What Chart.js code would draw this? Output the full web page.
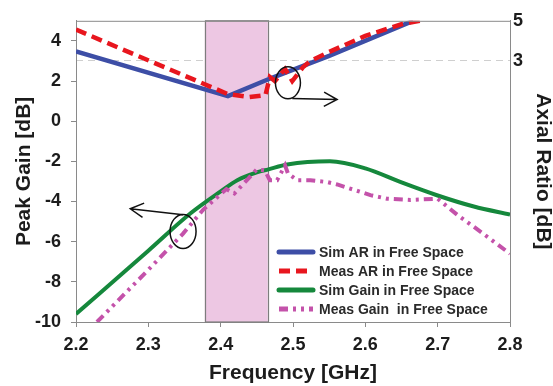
<!DOCTYPE html>
<html>
<head>
<meta charset="utf-8">
<script src="https://cdn.jsdelivr.net/npm/chart.js@4.4.1/dist/chart.umd.min.js"></script>
<style>
html,body{margin:0;padding:0;background:#fff;}
canvas{display:block;}
</style>
</head>
<body>
<canvas id="c" width="553" height="386"></canvas>
<script>
// ---- Data ----
const seriesLabels = ['Sim AR in Free Space', 'Meas AR in Free Space', 'Sim Gain in Free Space', 'Meas Gain  in Free Space'];

const simArFreq   = [2.20, 2.41, 2.47, 2.55, 2.666];
const simArValues = [3.48, 1.25, 2.15, 3.25, 5.0];

const measArFreq   = [2.20, 2.41, 2.44, 2.462, 2.468, 2.475, 2.489, 2.499, 2.514, 2.524, 2.55, 2.60, 2.652, 2.676];
const measArValues = [4.56, 1.35, 1.2, 1.3, 2.2, 2.0, 2.6, 2.0, 2.7, 3.0, 3.45, 4.25, 4.85, 5.0];

const simGainFreq   = [2.20, 2.30, 2.358, 2.40, 2.423, 2.45, 2.466, 2.492, 2.551, 2.60, 2.65, 2.70, 2.75, 2.80];
const simGainValues = [-9.6, -6.45, -4.6, -3.5, -2.94, -2.55, -2.4, -2.16, -2.0, -2.35, -3.05, -3.7, -4.25, -4.65];

const measGainFreq   = [2.229, 2.30, 2.348, 2.376, 2.408, 2.419, 2.45, 2.461, 2.468, 2.478, 2.489, 2.493, 2.506, 2.524, 2.547, 2.561, 2.607, 2.63, 2.662, 2.70, 2.727, 2.763, 2.80];
const measGainValues = [-10.0, -7.4, -5.6, -4.4, -3.38, -3.6, -2.4, -2.45, -2.94, -2.94, -2.2, -2.6, -2.94, -2.94, -3.03, -3.15, -3.68, -3.86, -3.92, -3.86, -4.66, -5.6, -6.6];

const xTickValues = [2.2, 2.3, 2.4, 2.5, 2.6, 2.7, 2.8];
const leftTickValues = [-10, -8, -6, -4, -2, 0, 2, 4];
const rightTickValues = [3, 5];

const bandStart = 2.378;
const bandEnd = 2.465;

// annotation anchors (data coordinates)
const ellipseAnchors = [{ f: 2.493, v: 1.91 }, { f: 2.348, v: -5.49 }];
const arrowAnchors = [
  { fromF: 2.499, fromV: 1.13, toF: 2.561, toV: 1.08 },
  { fromF: 2.348, fromV: -4.66, toF: 2.275, toV: -4.36 }
];

// ---- Styling ----
const FONT = "'Liberation Sans', Arial, Helvetica, sans-serif";
const TEXT = '#1c1c1c';
const AXIS = '#8a8a8a';

const toPts = (fs, vs) => fs.map((f, i) => ({ x: f, y: vs[i] }));

const bandPlugin = {
  id: 'band',
  beforeDatasetsDraw(chart) {
    const { ctx, chartArea: a, scales: { x } } = chart;
    const x1 = x.getPixelForValue(bandStart), x2 = x.getPixelForValue(bandEnd);
    ctx.save();
    ctx.fillStyle = '#edc7e3';
    ctx.fillRect(x1, a.top, x2 - x1, a.bottom - a.top);
    ctx.strokeStyle = '#7d7d7d';
    ctx.lineWidth = 1.2;
    ctx.strokeRect(Math.round(x1) + 0.5, a.top, Math.round(x2 - x1), a.bottom - a.top);
    ctx.restore();
  }
};

const decorPlugin = {
  id: 'decor',
  afterDatasetsDraw(chart) {
    const { ctx, chartArea: a, scales: { x, y } } = chart;
    ctx.save();
    // top frame line
    ctx.strokeStyle = AXIS;
    ctx.lineWidth = 1;
    ctx.beginPath();
    ctx.moveTo(a.left, a.top + 0.5);
    ctx.lineTo(a.right, a.top + 0.5);
    ctx.stroke();

    // ellipses
    ctx.strokeStyle = '#111';
    ctx.lineWidth = 1.5;
    const radii = [[12.5, 16], [13, 17]];
    ellipseAnchors.forEach((e, i) => {
      ctx.beginPath();
      ctx.ellipse(x.getPixelForValue(e.f), y.getPixelForValue(e.v), radii[i][0], radii[i][1], 0, 0, Math.PI * 2);
      ctx.stroke();
    });
    // arrows
    arrowAnchors.forEach(ar => {
      const x0 = x.getPixelForValue(ar.fromF), y0 = y.getPixelForValue(ar.fromV);
      const x1 = x.getPixelForValue(ar.toF), y1 = y.getPixelForValue(ar.toV);
      const ang = Math.atan2(y1 - y0, x1 - x0);
      ctx.beginPath();
      ctx.moveTo(x0, y0);
      ctx.lineTo(x1, y1);
      const L = 15, w = 0.5;
      ctx.moveTo(x1 - L * Math.cos(ang - w), y1 - L * Math.sin(ang - w));
      ctx.lineTo(x1, y1);
      ctx.lineTo(x1 - L * Math.cos(ang + w), y1 - L * Math.sin(ang + w));
      ctx.stroke();
    });

    // legend (inside plot, bottom-right)
    const ds = chart.data.datasets;
    const lx = a.right - 233, ly = a.bottom - 70, step = 19;
    ds.forEach((d, i) => {
      const yy = ly + i * step;
      ctx.save();
      ctx.strokeStyle = d.borderColor;
      ctx.lineWidth = 5;
      ctx.lineCap = d.borderDash && d.borderDash.length ? 'butt' : 'round';
      ctx.setLineDash(d.borderDash || []);
      ctx.beginPath();
      ctx.moveTo(lx + 2, yy);
      ctx.lineTo(lx + 36, yy);
      ctx.stroke();
      ctx.restore();
      ctx.fillStyle = '#2a2a2a';
      ctx.font = 'bold 14px ' + FONT;
      ctx.textBaseline = 'middle';
      ctx.textAlign = 'left';
      ctx.fillText(d.label, lx + 42, yy + 1);
    });
    ctx.restore();
  }
};

const tickFont = { family: FONT, size: 18, weight: 'bold' };
const titleFont = { family: FONT, size: 21, weight: 'bold', lineHeight: 1 };

new Chart(document.getElementById('c'), {
  type: 'line',
  data: {
    datasets: [
      { label: seriesLabels[0], data: toPts(simArFreq, simArValues), yAxisID: 'y2',
        borderColor: '#3d4ea6', borderWidth: 4.5, pointRadius: 0, tension: 0, fill: false, order: 4 },
      { label: seriesLabels[1], data: toPts(measArFreq, measArValues), yAxisID: 'y2',
        borderColor: '#e8161e', borderWidth: 4.5, borderDash: [11, 6], pointRadius: 0, tension: 0, fill: false, order: 3 },
      { label: seriesLabels[2], data: toPts(simGainFreq, simGainValues), yAxisID: 'y',
        borderColor: '#15883c', borderWidth: 4, pointRadius: 0, cubicInterpolationMode: 'monotone', fill: false, order: 2 },
      { label: seriesLabels[3], data: toPts(measGainFreq, measGainValues), yAxisID: 'y',
        borderColor: '#c452aa', borderWidth: 4, borderDash: [9, 5, 3, 5, 3, 5], pointRadius: 0, tension: 0, fill: false, order: 1 }
    ]
  },
  options: {
    responsive: false,
    animation: false,
    devicePixelRatio: 1,
    layout: { padding: { top: 16, left: 0, right: 0, bottom: 0 } },
    plugins: { legend: { display: false }, tooltip: { enabled: false } },
    scales: {
      x: {
        type: 'linear', min: 2.2, max: 2.8,
        afterBuildTicks: s => { s.ticks = xTickValues.map(v => ({ value: v })); },
        ticks: { callback: v => Number(v).toFixed(1), font: tickFont, color: TEXT, padding: 7, maxRotation: 0, autoSkip: false },
        grid: { drawOnChartArea: false, drawTicks: true, tickLength: 5, color: AXIS },
        border: { color: AXIS, width: 1 },
        title: { display: true, text: 'Frequency [GHz]', font: titleFont, color: TEXT, padding: { top: 0, bottom: 2 } },
        afterFit: s => { s.height = 64; }
      },
      y: {
        position: 'left', min: -10, max: 5,
        afterBuildTicks: s => { s.ticks = leftTickValues.map(v => ({ value: v })); },
        ticks: { font: tickFont, color: TEXT, padding: 10 },
        grid: { drawOnChartArea: false, drawTicks: true, tickLength: 5, color: AXIS },
        border: { color: AXIS, width: 1 },
        title: { display: true, text: 'Peak Gain [dB]', font: titleFont, color: TEXT, padding: { top: 14, bottom: 0 } },
        afterFit: s => { s.width = 76; }
      },
      y2: {
        position: 'right', min: -10, max: 5,
        afterBuildTicks: s => { s.ticks = rightTickValues.map(v => ({ value: v })); },
        ticks: { font: tickFont, color: TEXT, padding: 3 },
        grid: {
          drawOnChartArea: true, drawTicks: false, lineWidth: 1,
          color: c => (c.tick && c.tick.value === 3) ? '#cfcfcf' : 'rgba(0,0,0,0)'
        },
        border: { color: AXIS, width: 1, dash: [7, 5] },
        title: { display: true, text: 'Axial Ratio [dB]', font: titleFont, color: TEXT, padding: { top: 0, bottom: 0 } },
        afterFit: s => { s.width = 43; }
      }
    }
  },
  plugins: [bandPlugin, decorPlugin]
});
</script>
</body>
</html>
